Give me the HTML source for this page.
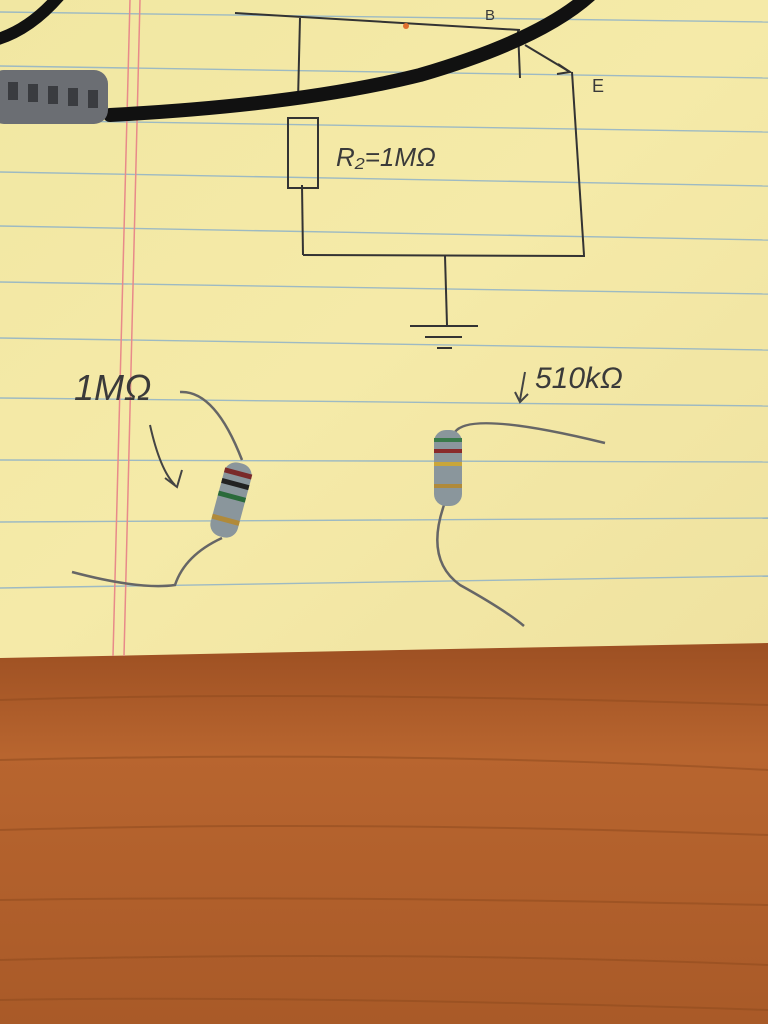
<!DOCTYPE html>
<html><head><style>
html,body{margin:0;padding:0;width:768px;height:1024px;overflow:hidden;background:#f3e9a6}
svg{display:block}
text{font-family:"Liberation Sans",sans-serif;fill:#3a3a3a}
</style></head><body>
<svg width="768" height="1024" viewBox="0 0 768 1024" xmlns="http://www.w3.org/2000/svg">
<defs>
<linearGradient id="paper" x1="0" y1="0" x2="1" y2="1">
<stop offset="0" stop-color="#f1e7a2"/><stop offset="0.5" stop-color="#f5eaa8"/><stop offset="1" stop-color="#efe2a0"/>
</linearGradient>
<linearGradient id="wood" x1="0" y1="0" x2="0" y2="1">
<stop offset="0" stop-color="#9c4f22"/><stop offset="0.3" stop-color="#b8652f"/><stop offset="1" stop-color="#a95a28"/>
</linearGradient>
</defs>
<rect x="0" y="640" width="768" height="384" fill="url(#wood)"/>
<g stroke="#8e4a1e" stroke-width="2" opacity="0.5" fill="none">
<path d="M0 700 Q300 690 768 705"/><path d="M0 760 Q400 750 768 770"/><path d="M0 830 Q350 820 768 835"/>
<path d="M0 900 Q300 895 768 905"/><path d="M0 960 Q400 950 768 965"/><path d="M0 1000 Q300 995 768 1010"/>
</g>
<polygon points="0,0 768,0 768,643 500,648 0,658" fill="url(#paper)"/>
<g stroke="#8fb2c8" stroke-width="1.4" fill="none" opacity="0.85">
<line x1="0" y1="12" x2="768" y2="22"/>
<line x1="0" y1="66" x2="768" y2="78"/>
<line x1="0" y1="120" x2="768" y2="132"/>
<line x1="0" y1="172" x2="768" y2="186"/>
<line x1="0" y1="226" x2="768" y2="240"/>
<line x1="0" y1="282" x2="768" y2="294"/>
<line x1="0" y1="338" x2="768" y2="350"/>
<line x1="0" y1="398" x2="768" y2="406"/>
<line x1="0" y1="460" x2="768" y2="462"/>
<line x1="0" y1="522" x2="768" y2="518"/>
<line x1="0" y1="588" x2="768" y2="576"/>
</g>
<g stroke="#e88a8a" stroke-width="1.5">
<line x1="130" y1="0" x2="113" y2="656"/><line x1="140" y1="0" x2="124" y2="656"/>
</g>
<!-- circuit -->
<g stroke="#333" stroke-width="2" fill="none">
<line x1="235" y1="13" x2="520" y2="30"/>
<line x1="300" y1="18" x2="298" y2="100"/>
<rect x="288" y="118" width="30" height="70"/>
<line x1="302" y1="185" x2="303" y2="255"/>
<line x1="303" y1="255" x2="585" y2="256"/>
<line x1="572" y1="72" x2="584" y2="255"/>
<line x1="518" y1="30" x2="520" y2="78"/>
<line x1="525" y1="45" x2="570" y2="72"/>
<path d="M558 64 L570 72 L557 74"/>
<line x1="445" y1="256" x2="447" y2="325"/>
<line x1="410" y1="326" x2="478" y2="326"/>
<line x1="425" y1="337" x2="462" y2="337"/>
<line x1="437" y1="348" x2="452" y2="348"/>
</g>
<circle cx="406" cy="26" r="3" fill="#e07030"/>
<text x="485" y="20" font-size="15">B</text>
<text x="592" y="92" font-size="18">E</text>
<text x="336" y="166" font-size="26" font-style="italic">R₂=1MΩ</text>
<text x="74" y="400" font-size="36" font-style="italic">1MΩ</text>
<text x="535" y="388" font-size="30" font-style="italic">510kΩ</text>
<g stroke="#444" stroke-width="2" fill="none">
<path d="M150 425 Q160 470 175 485"/><path d="M165 478 L177 487 L182 470"/>
<path d="M525 372 L520 400"/><path d="M515 392 L520 402 L528 394"/>
</g>
<!-- cables -->
<path d="M590 -5 Q540 40 420 75 Q300 105 110 115" stroke="#111" stroke-width="14" fill="none" stroke-linecap="round"/>
<path d="M-5 40 Q30 30 60 -5" stroke="#111" stroke-width="12" fill="none"/>
<rect x="-10" y="70" width="118" height="54" rx="14" fill="#6b6e73"/>
<g fill="#3a3c40"><rect x="8" y="82" width="10" height="18"/><rect x="28" y="84" width="10" height="18"/><rect x="48" y="86" width="10" height="18"/><rect x="68" y="88" width="10" height="18"/><rect x="88" y="90" width="10" height="18"/></g>
<!-- resistors -->
<g stroke="#666" stroke-width="2.5" fill="none">
<path d="M180 392 Q215 390 242 460"/>
<path d="M222 538 Q185 555 175 585 Q140 590 72 572"/>
<path d="M455 432 Q470 410 605 443"/>
<path d="M444 505 Q425 560 460 585 Q505 610 524 626"/>
</g>
<g transform="rotate(15 231 500)">
<rect x="217" y="462" width="28" height="76" rx="12" fill="#8a969c"/>
<rect x="217" y="470" width="28" height="5" fill="#7a2a2a"/>
<rect x="217" y="481" width="28" height="5" fill="#222"/>
<rect x="217" y="494" width="28" height="5" fill="#2a6a3a"/>
<rect x="217" y="518" width="28" height="5" fill="#b08a3a"/>
</g>
<rect x="434" y="430" width="28" height="76" rx="12" fill="#8a969c"/>
<rect x="434" y="438" width="28" height="4" fill="#3a7a4a"/>
<rect x="434" y="449" width="28" height="4" fill="#8a2a2a"/>
<rect x="434" y="462" width="28" height="4" fill="#c9a63a"/>
<rect x="434" y="484" width="28" height="4" fill="#b08a3a"/>
</svg>
</body></html>
